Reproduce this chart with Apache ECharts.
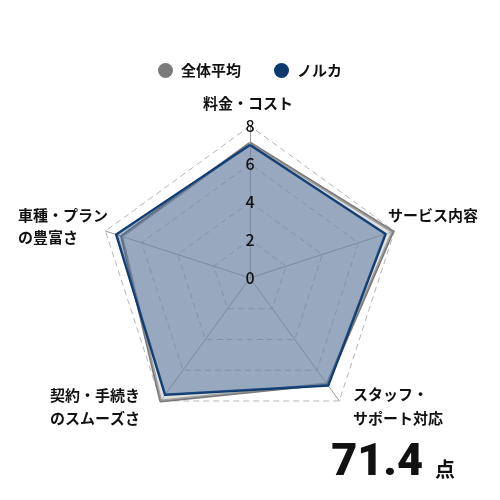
<!DOCTYPE html>
<html>
<head>
<meta charset="utf-8">
<script src="https://cdn.jsdelivr.net/npm/echarts@6/dist/echarts.min.js"></script>
<style>
  html,body{margin:0;padding:0;background:#fff;}
  #chart{width:500px;height:500px;}
</style>
</head>
<body>
<div id="chart"></div>
<script>
// 評価項目 (上から反時計回り = echartsの並び順)
var categories = ['料金・コスト', '車種・プラン\nの豊富さ', '契約・手続き\nのスムーズさ', 'スタッフ・\nサポート対応', 'サービス内容'];
var avgValues = [7.1, 7.1, 8.0, 6.9, 7.9];    // 全体平均
var norukaValues = [7.0, 7.4, 7.6, 7.0, 7.5]; // ノルカ
var seriesNames = ['全体平均', 'ノルカ'];
var axisMax = 8;
var tickStep = 2;
var score = '71.4';

var font = '"Noto Sans CJK JP", "Noto Sans", sans-serif';

//項目名ラベルの置き場所 (categoriesと同じ順)
var nameBoxes = [
  {left: 203, top: 91.5, lh: 23},
  {left: 18, top: 204, lh: 22},
  {left: 50, top: 383.5, lh: 23},
  {left: 353, top: 382, lh: 24},
  {left: 388, top: 203.5, lh: 23}
];
var nameTexts = categories.map(function(c, i){
  var b = nameBoxes[i];
  return {
    type: 'text',
    left: b.left,
    top: b.top,
    z: 20,
    style: {text: c, fill: '#111', font: 'bold 15px ' + font, lineHeight: b.lh}
  };
});

var chart = echarts.init(document.getElementById('chart'));
var option = {
  animation: false,
  legend: {
    top: 58,
    left: 'center',
    itemWidth: 15,
    itemHeight: 15,
    itemGap: 33,
    icon: 'circle',
    textStyle: {fontSize: 15, fontWeight: 'bold', color: '#111', fontFamily: font, padding: [0, 0, 0, 3]},
    data: seriesNames
  },
  title: {
    text: '{a|' + score + '} {b|点}',
    right: 40,
    top: 436,
    textStyle: {
      rich: {
        a: {fontSize: 45, fontWeight: 900, color: '#111', fontFamily: 'Roboto, "Noto Sans", sans-serif'},
        b: {fontSize: 20, fontWeight: 'bold', color: '#111', fontFamily: font, padding: [12, 0, 0, 7]}
      }
    }
  },
  graphic: nameTexts,
  radar: {
    center: [250, 278],
    radius: 152,
    startAngle: 90,
    splitNumber: axisMax / tickStep,
    shape: 'polygon',
    indicator: categories.map(function(c){ return {name: c, min: 0, max: axisMax}; }),
    axisName: {show: false},
    axisLine: {lineStyle: {color: '#9a9a9a', width: 1}},
    splitLine: {lineStyle: {color: '#b5b5b5', type: [6, 4], width: 1}},
    splitArea: {show: false},
    axisLabel: {show: false}
  },
  polar: {center: [250, 278], radius: 152},
  angleAxis: {show: false, startAngle: 90, min: 0, max: 360},
  radiusAxis: {
    min: 0,
    max: axisMax,
    interval: tickStep,
    z: 10,
    axisLine: {show: false},
    axisTick: {show: false},
    splitLine: {show: false},
    axisLabel: {show: true, margin: 0, align: 'center', verticalAlign: 'middle', fontSize: 16, fontWeight: 500, color: '#111', fontFamily: font}
  },
  series: [{
    type: 'radar',
    symbol: 'none',
    data: [{
      name: seriesNames[0],
      value: avgValues,
      itemStyle: {color: '#7a7a7a'},
      lineStyle: {color: '#7a7a7a', width: 3},
      areaStyle: {color: 'rgba(195,195,195,0.75)'}
    }, {
      name: seriesNames[1],
      value: norukaValues,
      itemStyle: {color: '#0d3a6e'},
      lineStyle: {color: '#0d3a6e', width: 2.5},
      areaStyle: {color: 'rgba(50,88,145,0.58)'}
    }]
  }]
};
chart.setOption(option);
</script>
</body>
</html>
